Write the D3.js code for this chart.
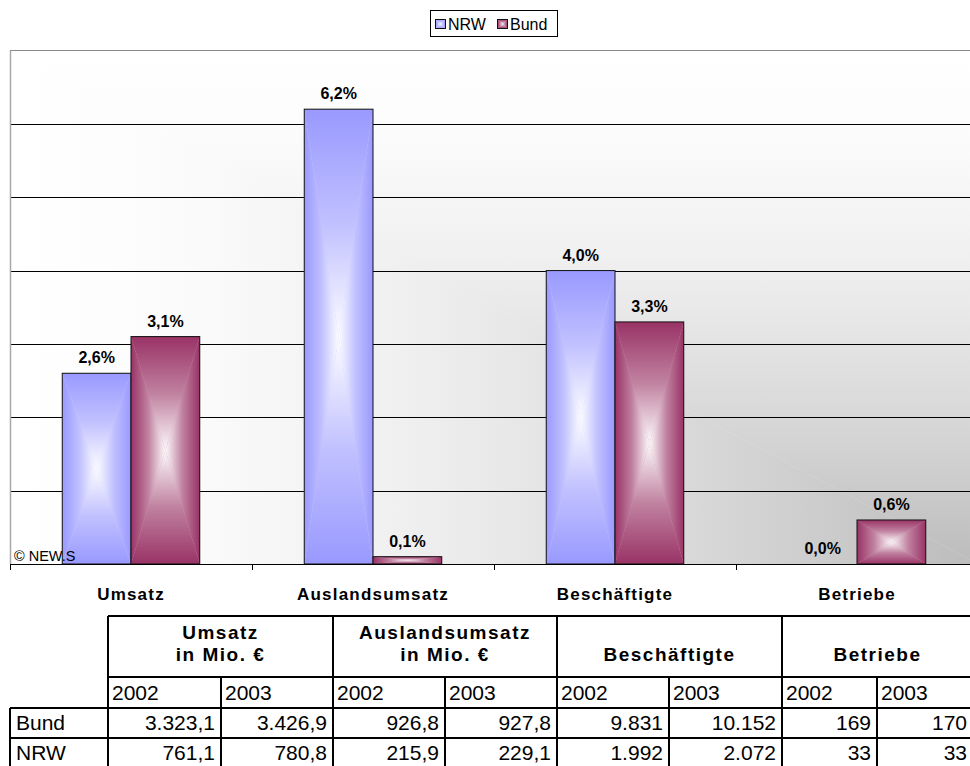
<!DOCTYPE html>
<html>
<head>
<meta charset="utf-8">
<script src="https://cdn.jsdelivr.net/npm/d3@7"></script>
<style>
body { margin: 0; background: #fff; }
svg { display: block; font-family: Arial, "Liberation Sans", sans-serif; }
</style>
</head>
<body>
<svg id="chart" width="970" height="766"></svg>
<script>
// chart values
const categories = ["Umsatz", "Auslandsumsatz", "Beschäftigte", "Betriebe"];
const seriesNames = ["NRW", "Bund"];
const nrwValues = [2.6, 6.2, 4.0, 0.0];
const bundValues = [3.1, 0.1, 3.3, 0.6];
const yTicks = [0, 1, 2, 3, 4, 5, 6, 7];

// table values
const tableHeads = [["Umsatz", "in Mio. €"], ["Auslandsumsatz", "in Mio. €"], ["Beschäftigte"], ["Betriebe"]];
const years = ["2002", "2003"];
const rowNames = ["Bund", "NRW"];
const bundTable = [3323.1, 3426.9, 926.8, 927.8, 9831, 10152, 169, 170];
const nrwTable = [761.1, 780.8, 215.9, 229.1, 1992, 2072, 33, 33];

const colors = { NRW: "#9999ff", Bund: "#993366" };

const plot = { left: 10, right: 978, top: 50.5, bottom: 564 };
const tableCols = [108, 221, 333, 445, 557, 669, 782, 877, 973];
const tableRows = [616, 677, 708, 738, 768];

const svg = d3.select("#chart");
const defs = svg.append("defs");

const de = d3.formatLocale({ decimal: ",", thousands: ".", grouping: [3], currency: ["", " €"] });
const fmtDec = de.format(",.1f");
const fmtInt = de.format(",d");
const fmtPct = de.format(".1f");

let x = d3.scaleBand()
    .domain(categories)
    .range([plot.left, plot.right]);

let xs = d3.scaleBand()
    .domain(seriesNames)
    .range([0, x.bandwidth()])
    .paddingOuter(0.76);

let y = d3.scaleLinear()
    .domain([0, 7])
    .range([plot.bottom, plot.top]);

// background gradient, darker toward the lower right corner
const bgShade = d3.interpolateRgb("#ffffff", "#bcbcbc");
const bgStops = d3.range(0, 1.01, 0.1);
[["bgV", 0, plot.top, 0, plot.bottom], ["bgH", plot.left, 0, plot.right, 0]].forEach(([id, x1, y1, x2, y2]) => {
    let g = defs.append("linearGradient").attr("id", id)
        .attr("gradientUnits", "userSpaceOnUse")
        .attr("x1", x1).attr("y1", y1).attr("x2", x2).attr("y2", y2);
    bgStops.forEach(t => g.append("stop").attr("offset", t).attr("stop-color", bgShade(Math.pow(t, 1.6))));
});

let clip = defs.append("clipPath").attr("id", "plotclip");
clip.append("rect").attr("x", plot.left).attr("y", plot.top)
    .attr("width", plot.right - plot.left).attr("height", plot.bottom - plot.top);

let bg = svg.append("g").attr("clip-path", "url(#plotclip)");
bg.append("path")
    .attr("d", `M${plot.left},${plot.top}L${plot.right},${plot.top}L${plot.right},${plot.bottom}Z`)
    .attr("fill", "url(#bgV)");
bg.append("path")
    .attr("d", `M${plot.left},${plot.top}L${plot.left},${plot.bottom}L${plot.right},${plot.bottom}Z`)
    .attr("fill", "url(#bgH)")
    .attr("stroke", "url(#bgH)").attr("stroke-width", 0.6);

// bar gradients: four sides fading to white in the middle
const dirs = { top: [0, 0, 0, 1], bottom: [0, 1, 0, 0], left: [0, 0, 1, 0], right: [1, 0, 0, 0] };
seriesNames.forEach(s => {
    Object.entries(dirs).forEach(([d, v]) => {
        let g = defs.append("linearGradient").attr("id", `g-${s}-${d}`)
            .attr("x1", v[0]).attr("y1", v[1]).attr("x2", v[2]).attr("y2", v[3]);
        let mix = d3.interpolateRgb(colors[s], "#ffffff");
        g.append("stop").attr("offset", 0).attr("stop-color", colors[s]);
        g.append("stop").attr("offset", 0.5).attr("stop-color", mix(0.38));
        g.append("stop").attr("offset", 1).attr("stop-color", mix(0.97));
    });
});

function gradBox(g, s, bx, by, w, h) {
    let cx = bx + w / 2, cy = by + h / 2;
    g.append("rect").attr("x", bx).attr("y", by).attr("width", w).attr("height", h)
        .attr("fill", d3.interpolateRgb(colors[s], "#fff")(0.5));
    const tris = {
        top: [[bx, by], [bx + w, by]],
        bottom: [[bx, by + h], [bx + w, by + h]],
        left: [[bx, by], [bx, by + h]],
        right: [[bx + w, by], [bx + w, by + h]]
    };
    Object.entries(tris).forEach(([d, p]) => {
        g.append("path")
            .attr("d", `M${p[0][0]},${p[0][1]}L${p[1][0]},${p[1][1]}L${cx},${cy}Z`)
            .attr("fill", `url(#g-${s}-${d})`);
    });
    g.append("rect").attr("x", bx).attr("y", by).attr("width", w).attr("height", h)
        .attr("fill", "none").attr("stroke", "#111").attr("stroke-width", 1);
}

// gridlines
svg.append("g").selectAll("line")
    .data(yTicks.slice(1, -1))
    .enter().append("line")
    .attr("x1", plot.left).attr("x2", plot.right)
    .attr("y1", d => Math.round(y(d)) + 0.5).attr("y2", d => Math.round(y(d)) + 0.5)
    .attr("stroke", "#000");

// plot border
svg.append("line").attr("x1", plot.left).attr("x2", plot.right)
    .attr("y1", y(7)).attr("y2", y(7)).attr("stroke", "#888");
svg.append("line").attr("x1", plot.left + 0.5).attr("x2", plot.left + 0.5)
    .attr("y1", y(7)).attr("y2", y(0)).attr("stroke", "#a8a8a8").attr("stroke-width", 1.5);

// bars
const barData = [];
categories.forEach((c, i) => {
    barData.push({ cat: c, s: "NRW", v: nrwValues[i] });
    barData.push({ cat: c, s: "Bund", v: bundValues[i] });
});

let bars = svg.append("g");
barData.forEach(d => {
    let h = y(0) - y(d.v);
    if (h <= 0) return;
    gradBox(bars, d.s, x(d.cat) + xs(d.s), y(d.v), xs.bandwidth(), h);
});

// baseline and ticks
svg.append("line").attr("x1", plot.left).attr("x2", plot.right)
    .attr("y1", plot.bottom + 0.5).attr("y2", plot.bottom + 0.5).attr("stroke", "#000");
svg.append("g").selectAll("line")
    .data(categories.map(c => x(c)).concat([plot.right]))
    .enter().append("line")
    .attr("x1", d => Math.round(d) + 0.5).attr("x2", d => Math.round(d) + 0.5)
    .attr("y1", plot.bottom).attr("y2", plot.bottom + 6)
    .attr("stroke", "#000");

// value labels
svg.append("g").selectAll("text")
    .data(barData)
    .enter().append("text")
    .attr("x", d => x(d.cat) + xs(d.s) + xs.bandwidth() / 2)
    .attr("y", d => y(d.v) - 10)
    .style("text-anchor", "middle")
    .style("font-size", "16px")
    .style("font-weight", "bold")
    .text(d => fmtPct(d.v) + "%");

// category labels
let xAxis = svg.append("g")
    .attr("transform", `translate(0, ${plot.bottom})`)
    .call(d3.axisBottom(x).tickSize(0).tickPadding(24));
xAxis.select(".domain").remove();
xAxis.selectAll("text")
    .attr("fill", "#000")
    .style("font-family", "Arial, 'Liberation Sans', sans-serif")
    .style("font-size", "17px")
    .style("font-weight", "bold")
    .style("letter-spacing", "1.2px");

// copyright
svg.append("text")
    .attr("x", 14).attr("y", 561)
    .style("font-size", "14.5px")
    .text("© NEW.S");

// legend
let legend = svg.append("g");
legend.append("rect").attr("x", 430.5).attr("y", 10.5).attr("width", 127).attr("height", 26)
    .attr("fill", "#fff").attr("stroke", "#000");
const legendX = [435, 497];
seriesNames.forEach((s, i) => {
    gradBox(legend, s, legendX[i] + 0.5, 19.5, 10, 9);
    legend.append("text")
        .attr("x", legendX[i] + 13).attr("y", 29.5)
        .style("font-size", "16px")
        .text(s);
});

// data table
let table = svg.append("g");
let line = (x1, y1, x2, y2) => table.append("line")
    .attr("x1", x1).attr("y1", y1).attr("x2", x2).attr("y2", y2)
    .attr("stroke", "#000").attr("stroke-width", 2);

line(tableCols[0], tableRows[0], tableCols[8] + 20, tableRows[0]);
line(tableCols[0], tableRows[1], tableCols[8] + 20, tableRows[1]);
line(plot.left, tableRows[2], tableCols[8] + 20, tableRows[2]);
line(plot.left, tableRows[3], tableCols[8] + 20, tableRows[3]);
line(plot.left, tableRows[2], plot.left, tableRows[4]);
tableCols.forEach((cx, i) => {
    let top = (i % 2 === 0) ? tableRows[0] : tableRows[1];
    line(cx, top, cx, tableRows[4]);
});

tableHeads.forEach((lines, i) => {
    let cx = (tableCols[i * 2] + tableCols[i * 2 + 2]) / 2;
    lines.forEach((t, j) => {
        let yy = lines.length === 2 ? [639, 661][j] : 661;
        table.append("text")
            .attr("x", cx).attr("y", yy)
            .style("text-anchor", "middle")
            .style("font-size", "19px")
            .style("font-weight", "bold")
            .style("letter-spacing", "1.5px")
            .text(t);
    });
});

for (let i = 0; i < 8; i++) {
    table.append("text")
        .attr("x", tableCols[i] + 4).attr("y", tableRows[2] - 8)
        .style("font-size", "21px")
        .text(years[i % 2]);
}

[bundTable, nrwTable].forEach((row, r) => {
    let yy = tableRows[r + 3] - 8;
    table.append("text")
        .attr("x", plot.left + 6).attr("y", yy)
        .style("font-size", "21px")
        .text(rowNames[r]);
    row.forEach((v, i) => {
        table.append("text")
            .attr("x", tableCols[i + 1] - 6).attr("y", yy)
            .style("text-anchor", "end")
            .style("font-size", "21px")
            .text(i < 4 ? fmtDec(v) : fmtInt(v));
    });
});
</script>
</body>
</html>
